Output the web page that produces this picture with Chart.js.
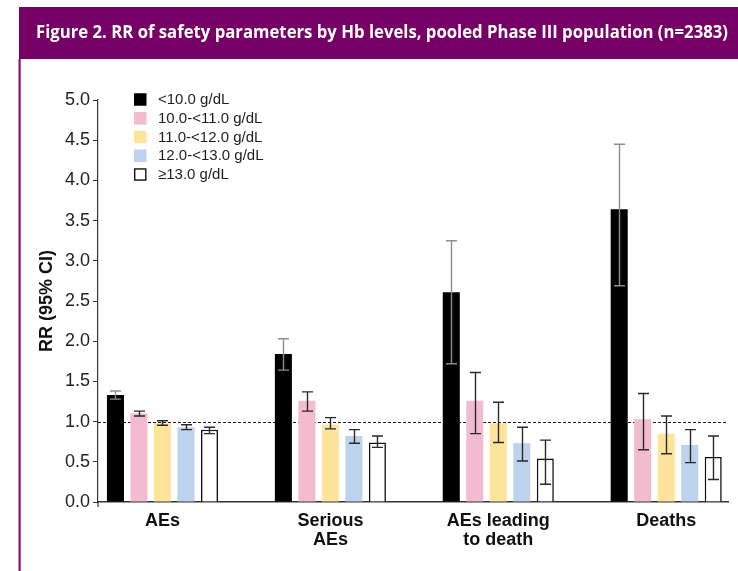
<!DOCTYPE html>
<html>
<head>
<meta charset="utf-8">
<script src="https://cdn.jsdelivr.net/npm/chart.js@4/dist/chart.umd.min.js"></script>
<style>
  html, body { margin: 0; padding: 0; background: #fff; }
  #wrap { width: 738px; height: 571px; position: relative; }
</style>
</head>
<body>
<div id="wrap"><canvas id="c" width="738" height="571"></canvas></div>
<script>
// Safety endpoints (x-axis groups)
const categories = [['AEs'], ['Serious', 'AEs'], ['AEs leading', 'to death'], ['Deaths']];

// Hb level groups (legend)
const hbLevels = ['<10.0 g/dL', '10.0-<11.0 g/dL', '11.0-<12.0 g/dL', '12.0-<13.0 g/dL', '\u226513.0 g/dL'];

// Relative risk and 95% CI per Hb level, one value per endpoint
const rrLt10     = [1.33, 1.84, 2.61, 3.64];
const rrLt10Lo   = [1.28, 1.64, 1.72, 2.69];
const rrLt10Hi   = [1.38, 2.03, 3.25, 4.45];

const rr10to11   = [1.10, 1.26, 1.26, 1.03];
const rr10to11Lo = [1.07, 1.13, 0.85, 0.65];
const rr10to11Hi = [1.13, 1.37, 1.61, 1.35];

const rr11to12   = [0.98, 0.96, 0.98, 0.85];
const rr11to12Lo = [0.955, 0.91, 0.74, 0.60];
const rr11to12Hi = [1.01, 1.05, 1.24, 1.07];

const rr12to13   = [0.93, 0.82, 0.73, 0.71];
const rr12to13Lo = [0.90, 0.73, 0.51, 0.49];
const rr12to13Hi = [0.96, 0.90, 0.93, 0.90];

const rrGe13     = [0.90, 0.74, 0.54, 0.56];
const rrGe13Lo   = [0.85, 0.68, 0.22, 0.28];
const rrGe13Hi   = [0.93, 0.82, 0.77, 0.82];

// y-axis ticks and the reference line at RR = 1
const yTicks = [0, 0.5, 1.0, 1.5, 2.0, 2.5, 3.0, 3.5, 4.0, 4.5, 5.0];
const refRR = 1.0;

const figureTitle = 'Figure 2. RR of safety parameters by Hb levels, pooled Phase III population (n=2383)';
const yTitle = 'RR (95% CI)';

const FONT = '"Liberation Sans", Arial, Helvetica, sans-serif';
Chart.defaults.font.family = FONT;

function points(vals) { return vals.map((v, i) => ({ x: i, y: v })); }

const series = [
  { label: hbLevels[0], vals: rrLt10,   lo: rrLt10Lo,   hi: rrLt10Hi,   fill: '#000000', border: '#000000', bw: 0,   err: '#8e8e8e' },
  { label: hbLevels[1], vals: rr10to11, lo: rr10to11Lo, hi: rr10to11Hi, fill: '#f2bbd0', border: '#f2bbd0', bw: 0,   err: '#2a2a2a' },
  { label: hbLevels[2], vals: rr11to12, lo: rr11to12Lo, hi: rr11to12Hi, fill: '#fee49b', border: '#fee49b', bw: 0,   err: '#2a2a2a' },
  { label: hbLevels[3], vals: rr12to13, lo: rr12to13Lo, hi: rr12to13Hi, fill: '#bdd2ec', border: '#bdd2ec', bw: 0,   err: '#2a2a2a' },
  { label: hbLevels[4], vals: rrGe13,   lo: rrGe13Lo,   hi: rrGe13Hi,   fill: '#ffffff', border: '#111111', bw: 1.6, err: '#2a2a2a' }
];

const datasets = series.map(s => ({
  label: s.label,
  data: points(s.vals),
  backgroundColor: s.fill,
  borderColor: s.border,
  borderWidth: s.bw,
  ciLow: s.lo,
  ciHigh: s.hi,
  errColor: s.err
}));

// Purple header band with the figure title, plus the panel's left rule
const framePlugin = {
  id: 'frame',
  beforeDraw(chart) {
    const ctx = chart.ctx;
    ctx.save();
    ctx.fillStyle = '#ffffff';
    ctx.fillRect(0, 0, chart.width, chart.height);
    ctx.fillStyle = '#760066';
    ctx.fillRect(19, 7, chart.width - 19, 52);
    ctx.fillStyle = '#86107c';
    ctx.fillRect(18.5, 59, 2.2, chart.height - 59);
    // title, fitted to the band width
    ctx.font = 'bold 17px "Open Sans", "Noto Sans", sans-serif';
    ctx.fillStyle = '#ffffff';
    ctx.textBaseline = 'middle';
    const w = ctx.measureText(figureTitle).width;
    const target = 692;
    ctx.translate(36, 33);
    ctx.scale(target / w, 1);
    ctx.fillText(figureTitle, 0, 0);
    ctx.restore();
  }
};

// Dashed reference line at RR = 1, behind the bars; short stub of the y axis below zero
const refLinePlugin = {
  id: 'refLine',
  beforeDatasetsDraw(chart) {
    const { ctx, chartArea, scales } = chart;
    const y = Math.round(scales.y.getPixelForValue(refRR)) + 0.5;
    ctx.save();
    ctx.strokeStyle = '#1a1a1a';
    ctx.lineWidth = 1;
    ctx.setLineDash([3, 2]);
    ctx.beginPath();
    ctx.moveTo(chartArea.left, y);
    ctx.lineTo(chartArea.right, y);
    ctx.stroke();
    ctx.setLineDash([]);
    ctx.strokeStyle = '#333333';
    ctx.lineWidth = 1.2;
    ctx.beginPath();
    ctx.moveTo(chartArea.left, chartArea.bottom);
    ctx.lineTo(chartArea.left, chartArea.bottom + 5);
    ctx.stroke();
    ctx.restore();
  }
};

// 95% CI whiskers with caps
const errorBarPlugin = {
  id: 'errorBars',
  afterDatasetsDraw(chart) {
    const { ctx, scales } = chart;
    ctx.save();
    chart.data.datasets.forEach((ds, di) => {
      const meta = chart.getDatasetMeta(di);
      meta.data.forEach((bar, i) => {
        const x = Math.round(bar.x) + 0.5;
        const yLo = scales.y.getPixelForValue(ds.ciLow[i]);
        const yHi = scales.y.getPixelForValue(ds.ciHigh[i]);
        const cap = 5.5;
        ctx.strokeStyle = ds.errColor;
        ctx.lineWidth = 1.4;
        ctx.beginPath();
        ctx.moveTo(x, yLo); ctx.lineTo(x, yHi);
        ctx.moveTo(x - cap, yLo); ctx.lineTo(x + cap, yLo);
        ctx.moveTo(x - cap, yHi); ctx.lineTo(x + cap, yHi);
        ctx.stroke();
      });
    });
    ctx.restore();
  }
};

// Legend in the upper-left of the plot
const legendPlugin = {
  id: 'hbLegend',
  afterDraw(chart) {
    const ctx = chart.ctx;
    ctx.save();
    ctx.font = '15px ' + FONT;
    ctx.textBaseline = 'middle';
    chart.data.datasets.forEach((ds, i) => {
      const cy = 99.5 + i * 18.75;
      const bx = 134, size = 12.5;
      ctx.fillStyle = ds.backgroundColor;
      ctx.fillRect(bx, cy - size / 2, size, size);
      if (ds.borderWidth > 0) {
        ctx.strokeStyle = ds.borderColor;
        ctx.lineWidth = 1.4;
        ctx.strokeRect(bx + 0.7, cy - size / 2 + 0.7, size - 1.4, size - 1.4);
      }
      ctx.fillStyle = '#1e1e1e';
      ctx.fillText(ds.label, 158, cy + 0.5);
    });
    ctx.restore();
  }
};

new Chart(document.getElementById('c'), {
  type: 'bar',
  data: { datasets },
  plugins: [framePlugin, refLinePlugin, errorBarPlugin, legendPlugin],
  options: {
    responsive: false,
    animation: false,
    devicePixelRatio: 1,
    layout: { padding: { left: 20, right: 10, top: 100, bottom: 0 } },
    plugins: { legend: { display: false }, tooltip: { enabled: false } },
    datasets: { bar: { categoryPercentage: 0.70, barPercentage: 0.725, borderSkipped: 'start' } },
    scales: {
      x: {
        type: 'linear',
        min: -0.384,
        max: 3.368,
        offset: false,
        afterFit(s) { s.height = 69; },
        grid: { display: false, offset: false },
        border: { display: true, color: '#333333', width: 1.5 },
        ticks: {
          stepSize: 1,
          includeBounds: false,
          autoSkip: false,
          maxRotation: 0,
          minRotation: 0,
          padding: 1,
          color: '#111111',
          font: { family: FONT, size: 18, weight: 'bold', lineHeight: 1.08 },
          callback: v => (Number.isInteger(v) && categories[v]) ? categories[v] : ''
        }
      },
      y: {
        min: yTicks[0],
        max: yTicks[yTicks.length - 1],
        afterFit(s) { s.width = 78; },
        afterBuildTicks(s) { s.ticks = yTicks.map(v => ({ value: v })); },
        grid: { drawOnChartArea: false, drawTicks: true, tickLength: 5, color: '#333333', lineWidth: 1 },
        border: { display: true, color: '#333333', width: 1.2 },
        ticks: {
          padding: 3,
          color: '#222222',
          font: { family: FONT, size: 18 },
          callback: v => Number(v).toFixed(1)
        },
        title: {
          display: true,
          text: yTitle,
          color: '#111111',
          font: { family: FONT, size: 18, weight: 'bold' },
          padding: { top: 16, bottom: 4 }
        }
      }
    }
  }
});
</script>
</body>
</html>
